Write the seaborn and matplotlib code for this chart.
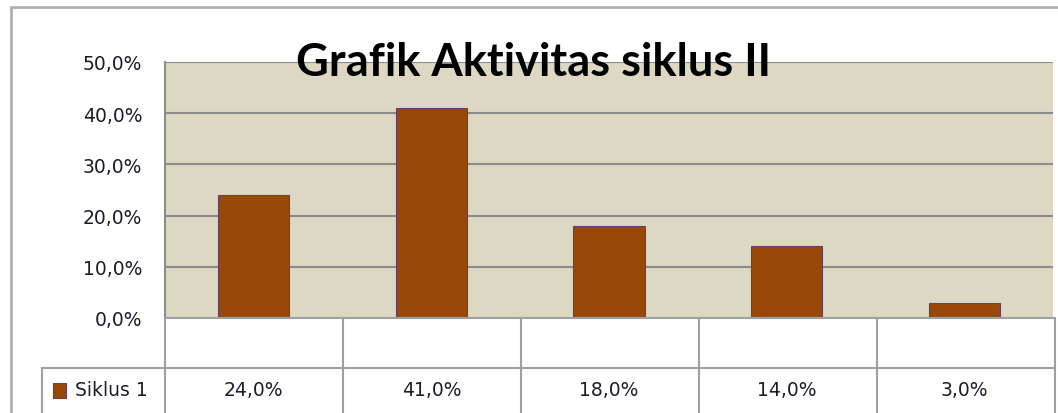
import matplotlib
matplotlib.use("Agg")
import matplotlib.pyplot as plt
from matplotlib.patches import Rectangle
import pandas as pd
import seaborn as sns

# chart data
categories = ["A", "B", "C", "D", "E"]
values = [24.0, 41.0, 18.0, 14.0, 3.0]
series_name = "Siklus 1"
title = "Grafik Aktivitas siklus II"
yticks = [0, 10, 20, 30, 40, 50]

bar_color = "#984807"
bg_color = "#ddd8c4"
line_gray = "#8c8c8c"
text_color = "#1c1c2c"
small = dict(fontsize=13.5, family=["DejaVu Sans"], color=text_color)

df = pd.DataFrame({"cat": categories, "val": values})

sns.set_style("white")
plt.rcParams["font.family"] = ["Lato", "DejaVu Sans"]

W, H = 1058, 414
fig = plt.figure(figsize=(W / 100, H / 100), dpi=100)


def fx(px):
    return px / W


def fy(py):
    return 1 - py / H


# outer chart frame
fig.patches.append(Rectangle((fx(11), fy(500)), fx(1200), fy(8) - fy(500),
                             transform=fig.transFigure, fill=False,
                             edgecolor="#b0b0b0", lw=2))

left, right, top, bottom = 165, 1053, 63, 319
ax = fig.add_axes([fx(left), fy(bottom), fx(right) - fx(left), fy(top) - fy(bottom)])
ax.set_facecolor(bg_color)

sns.barplot(data=df, x="cat", y="val", color=bar_color, width=0.4,
            edgecolor="#6a4060", linewidth=0.8, saturation=1, ax=ax, zorder=3)

ax.set_xlim(-0.5, len(categories) - 0.5)
ax.set_ylim(0, 50)
ax.set_yticks(yticks)
ax.set_yticklabels([f"{t:.1f}%".replace(".", ",") for t in yticks], **small)
ax.tick_params(axis="y", length=0, pad=16.5)
ax.set_xticks([])
ax.set_xlabel("")
ax.set_ylabel("")
for t in yticks[1:]:
    ax.axhline(t, color=line_gray, lw=1.5, zorder=1)
for side in ["top", "right", "bottom"]:
    ax.spines[side].set_visible(False)
ax.spines["left"].set_color(line_gray)
ax.spines["left"].set_linewidth(1.5)

# data table below the plot
tl = dict(color="#a0a0a0", lw=1.5, transform=fig.transFigure, clip_on=False)
row1, row2 = 369, 414
fig.add_artist(plt.Line2D([fx(left), fx(right + 2)], [fy(bottom), fy(bottom)], **tl))
fig.add_artist(plt.Line2D([fx(42), fx(right + 2)], [fy(row1), fy(row1)], **tl))
fig.add_artist(plt.Line2D([fx(42), fx(42)], [fy(row1), fy(row2 + 5)], **tl))
col_w = (right + 2 - left) / len(categories)
for i in range(len(categories) + 1):
    x = left + i * col_w
    fig.add_artist(plt.Line2D([fx(x), fx(x)], [fy(bottom), fy(row2 + 5)], **tl))

row_y = (fy(391) - fy(bottom)) / (fy(top) - fy(bottom))
for i, v in enumerate(values):
    ax.text(i, row_y, f"{v:.1f}%".replace(".", ","), transform=ax.get_xaxis_transform(),
            ha="center", va="center", **small)

fig.patches.append(Rectangle((fx(53), fy(399)), fx(13), fy(384) - fy(399),
                             transform=fig.transFigure, facecolor=bar_color,
                             edgecolor="#6a4060", lw=0.8))
fig.text(fx(75), fy(391), series_name, ha="left", va="center", **small)

fig.text(fx(533), fy(76), title, ha="center", va="baseline",
         fontsize=32.5, fontweight="bold", color="black")

fig.savefig("out.png", dpi=100)
